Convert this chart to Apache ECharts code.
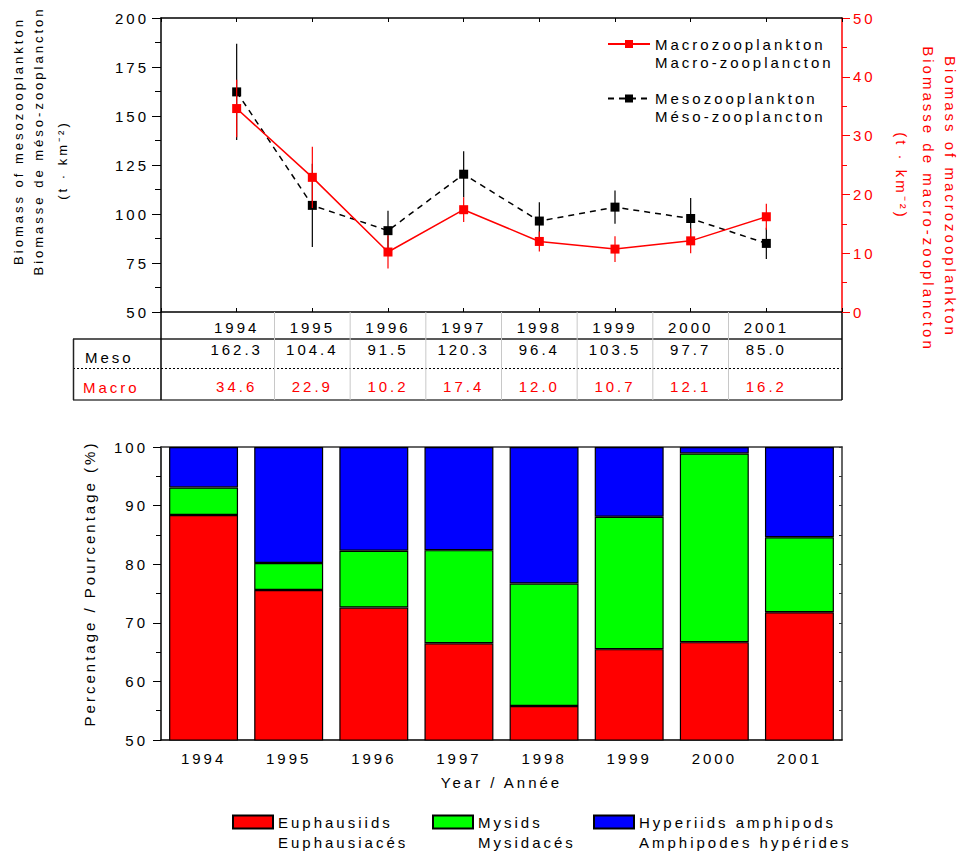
<!DOCTYPE html>
<html>
<head>
<meta charset="utf-8">
<script src="https://cdn.jsdelivr.net/npm/echarts@6/dist/echarts.min.js"></script>
<style>
  html, body { margin: 0; padding: 0; background: #fff; }
  #chart { width: 958px; height: 852px; }
  /* wide tracking for all chart text */
  #chart text { letter-spacing: 3px; }
</style>
</head>
<body>
<div id="chart"></div>
<script>
// Survey years
const years = [1994, 1995, 1996, 1997, 1998, 1999, 2000, 2001];

// Biomass (t · km-2): mesozooplankton on the left axis, macrozooplankton on the right axis
const mesoBiomass  = [162.3, 104.4, 91.5, 120.3, 96.4, 103.5, 97.7, 85.0];
const macroBiomass = [34.6, 22.9, 10.2, 17.4, 12.0, 10.7, 12.1, 16.2];

// Half-width of the error bars
const mesoError  = [24.5, 21.2, 10.2, 11.7, 9.6, 8.5, 10.5, 8.0];
const macroError = [4.9, 5.2, 2.8, 2.1, 1.7, 2.2, 2.1, 2.2];

// Composition of the macrozooplankton (%)
const euphausiids = [88.4, 75.6, 72.6, 66.5, 55.8, 65.5, 66.7, 71.8];
const mysids      = [4.7, 4.6, 9.7, 15.9, 20.9, 22.6, 32.2, 12.8];
const hyperiids   = [6.9, 19.8, 17.7, 17.6, 23.3, 11.9, 1.1, 15.4];

// Axis tick settings
const mesoTicks  = { min: 50, max: 200, interval: 25 };
const macroTicks = { min: 0, max: 50, interval: 10 };
const pctTicks   = { min: 50, max: 100, interval: 10 };

const FONT = '"Liberation Sans", Arial, sans-serif';
const RED = '#ff0000';

const chart = echarts.init(document.getElementById('chart'), null, { renderer: 'svg' });

function errorBar(color) {
  return function (params, api) {
    const x = api.value(0);
    const lo = api.coord([x, api.value(1)]);
    const hi = api.coord([x, api.value(2)]);
    return {
      type: 'line',
      shape: { x1: lo[0], y1: lo[1], x2: hi[0], y2: hi[1] },
      style: { stroke: color, lineWidth: 1.2 }
    };
  };
}

// Value table under the upper panel, one column per year
function tableColumn(params, api) {
  const yr = api.value(0);
  const i = api.value(1);
  const base = api.coord([yr, mesoTicks.min]);
  const children = [
    {
      type: 'text',
      style: {
        text: mesoBiomass[i].toFixed(1), x: base[0], y: base[1] + 37.5,
        align: 'center', verticalAlign: 'middle', fill: '#000',
        fontSize: 15, fontFamily: FONT
      }
    },
    {
      type: 'text',
      style: {
        text: macroBiomass[i].toFixed(1), x: base[0], y: base[1] + 74.5,
        align: 'center', verticalAlign: 'middle', fill: RED,
        fontSize: 15, fontFamily: FONT
      }
    }
  ];
  if (i < years.length - 1) {
    const sx = api.coord([yr + 0.5, mesoTicks.min])[0];
    children.push({
      type: 'line',
      shape: { x1: sx, y1: base[1], x2: sx, y2: base[1] + 88 },
      style: { stroke: '#c8c8c8', lineWidth: 1 }
    });
  }
  return { type: 'group', children };
}

const labelStyle = { fontSize: 15, fontFamily: FONT, color: '#000' };

function hline(x1, x2, y, stroke, w, dash) {
  return { type: 'line', shape: { x1, y1: y, x2, y2: y },
           style: { stroke, lineWidth: w, lineDash: dash || null }, silent: true };
}
function vline(x, y1, y2, stroke, w) {
  return { type: 'line', shape: { x1: x, y1, x2: x, y2 },
           style: { stroke, lineWidth: w }, silent: true };
}
function titleText(text, x, y, rot, size, color) {
  return { type: 'text', x, y, rotation: rot, silent: true,
           style: { text, align: 'center', verticalAlign: 'middle',
                    fontSize: size, fontFamily: FONT, fill: color } };
}

function twoLineLegend(name, second, left, top, iw, ih, lh, extra) {
  return Object.assign({
    data: [name], left, top, padding: 0, orient: 'vertical',
    itemWidth: iw, itemHeight: ih, selectedMode: false,
    formatter: n => '\n' + n + '\n' + second,
    textStyle: { fontSize: 15, fontFamily: FONT, color: '#000', lineHeight: lh }
  }, extra || {});
}

const option = {
  animation: false,
  backgroundColor: '#fff',
  textStyle: { fontFamily: FONT },
  grid: [
    { left: 161, right: 116, top: 18, height: 294 },
    { left: 161, right: 116, top: 447, height: 293 }
  ],
  legend: [
    twoLineLegend('Macrozooplankton', 'Macro-zooplancton', 607, 17, 42, 10, 18),
    twoLineLegend('Mesozooplankton', 'Méso-zooplancton', 607, 71.5, 42, 10, 18),
    twoLineLegend('Euphausiids', 'Euphausiacés', 232, 792, 40, 13, 20, { icon: 'rect' }),
    twoLineLegend('Mysids', 'Mysidacés', 432, 792, 40, 13, 20, { icon: 'rect' }),
    twoLineLegend('Hyperiids amphipods', 'Amphipodes hypérides', 593, 792, 40, 13, 20, { icon: 'rect' })
  ],
  xAxis: [
    {
      gridIndex: 0, type: 'value', position: 'bottom',
      min: years[0] - 1, max: years[years.length - 1] + 1, interval: 1,
      axisLine: { lineStyle: { color: '#000', width: 1.5 } },
      axisTick: { inside: true, length: 4, lineStyle: { color: '#000' } },
      axisLabel: Object.assign({ margin: 8,
        formatter: v => (v >= years[0] && v <= years[years.length - 1]) ? String(v) : '' }, labelStyle),
      splitLine: { show: false }
    },
    {
      gridIndex: 0, type: 'value', position: 'top',
      min: years[0] - 1, max: years[years.length - 1] + 1, interval: 1,
      axisLine: { lineStyle: { color: '#000', width: 1.5 } },
      axisTick: { inside: true, length: 4, lineStyle: { color: '#000' } },
      axisLabel: { show: false },
      splitLine: { show: false }
    },
    {
      gridIndex: 1, type: 'category', position: 'bottom', data: years,
      axisLine: { lineStyle: { color: '#000', width: 1.5 } },
      axisTick: { alignWithLabel: true, length: 6, lineStyle: { color: '#000' } },
      axisLabel: Object.assign({ margin: 11 }, labelStyle),
      name: 'Year / Année', nameLocation: 'middle', nameGap: 35,
      nameTextStyle: { fontSize: 15, fontFamily: FONT, color: '#000' }
    },
    {
      gridIndex: 1, type: 'category', position: 'top', data: years,
      axisLine: { lineStyle: { color: '#333', width: 1.5 } },
      axisTick: { inside: true, length: 3, lineStyle: { color: '#333' } },
      axisLabel: { show: false }
    }
  ],
  yAxis: [
    {
      gridIndex: 0, type: 'value', position: 'left',
      min: mesoTicks.min, max: mesoTicks.max, interval: mesoTicks.interval,
      axisLine: { show: true, lineStyle: { color: '#000', width: 1.5 } },
      axisTick: { show: true, length: 9, lineStyle: { color: '#000' } },
      minorTick: { show: true, splitNumber: 2, length: 6, lineStyle: { color: '#000' } },
      axisLabel: Object.assign({ margin: 12 }, labelStyle),
      splitLine: { show: false }
    },
    {
      gridIndex: 0, type: 'value', position: 'right',
      min: macroTicks.min, max: macroTicks.max, interval: macroTicks.interval,
      axisLine: { show: true, lineStyle: { color: RED, width: 1.5 } },
      axisTick: { show: true, length: 8, lineStyle: { color: RED } },
      minorTick: { show: true, splitNumber: 2, length: 5, lineStyle: { color: RED } },
      axisLabel: { margin: 11, fontSize: 15, fontFamily: FONT, color: RED },
      splitLine: { show: false }
    },
    {
      gridIndex: 1, type: 'value', position: 'left',
      min: pctTicks.min, max: pctTicks.max, interval: pctTicks.interval,
      axisLine: { show: true, lineStyle: { color: '#000', width: 1.5 } },
      axisTick: { show: true, length: 8, lineStyle: { color: '#000' } },
      minorTick: { show: true, splitNumber: 2, length: 5, lineStyle: { color: '#000' } },
      axisLabel: Object.assign({ margin: 13 }, labelStyle),
      splitLine: { show: false },
      name: 'Percentage / Pourcentage (%)', nameLocation: 'middle', nameGap: 64,
      nameTextStyle: { fontSize: 15, fontFamily: FONT, color: '#000', padding: [0, 0, 0, 20] }
    },
    {
      gridIndex: 1, type: 'value', position: 'right',
      min: pctTicks.min, max: pctTicks.max, interval: pctTicks.interval,
      axisLine: { show: true, lineStyle: { color: '#333', width: 1.5 } },
      axisTick: { show: true, inside: true, length: 3, lineStyle: { color: '#333' } },
      minorTick: { show: true, splitNumber: 2, length: 3, lineStyle: { color: '#333' } },
      axisLabel: { show: false },
      splitLine: { show: false }
    }
  ],
  series: [
    {
      name: 'table', type: 'custom', xAxisIndex: 0, yAxisIndex: 0, z: 1,
      data: years.map((y, i) => [y, i]),
      encode: { x: 0 },
      renderItem: tableColumn, silent: true
    },
    {
      name: 'mesoError', type: 'custom', xAxisIndex: 0, yAxisIndex: 0, z: 2,
      data: years.map((y, i) => [y, mesoBiomass[i] - mesoError[i], mesoBiomass[i] + mesoError[i]]),
      encode: { x: 0, y: [1, 2] },
      renderItem: errorBar('#000'), silent: true
    },
    {
      name: 'Mesozooplankton', type: 'line', xAxisIndex: 0, yAxisIndex: 0, z: 3,
      data: years.map((y, i) => [y, mesoBiomass[i]]),
      symbol: 'rect', symbolSize: 9,
      itemStyle: { color: '#000' },
      lineStyle: { color: '#000', width: 1.5, type: [6, 5] }
    },
    {
      name: 'macroError', type: 'custom', xAxisIndex: 0, yAxisIndex: 1, z: 4,
      data: years.map((y, i) => [y, macroBiomass[i] - macroError[i], macroBiomass[i] + macroError[i]]),
      encode: { x: 0, y: [1, 2] },
      renderItem: errorBar(RED), silent: true
    },
    {
      name: 'Macrozooplankton', type: 'line', xAxisIndex: 0, yAxisIndex: 1, z: 5,
      data: years.map((y, i) => [y, macroBiomass[i]]),
      symbol: 'rect', symbolSize: 9,
      itemStyle: { color: RED },
      lineStyle: { color: RED, width: 1.5 }
    },
    {
      name: 'Euphausiids', type: 'bar', xAxisIndex: 2, yAxisIndex: 2, stack: 'pct',
      data: euphausiids, barCategoryGap: '19%',
      itemStyle: { color: '#ff0000', borderColor: '#000', borderWidth: 1.2 }
    },
    {
      name: 'Mysids', type: 'bar', xAxisIndex: 2, yAxisIndex: 2, stack: 'pct',
      data: mysids, barCategoryGap: '19%',
      itemStyle: { color: '#00ff00', borderColor: '#000', borderWidth: 1.2 }
    },
    {
      name: 'Hyperiids amphipods', type: 'bar', xAxisIndex: 2, yAxisIndex: 2, stack: 'pct',
      data: hyperiids, barCategoryGap: '19%',
      itemStyle: { color: '#0000ff', borderColor: '#000', borderWidth: 1.2 }
    }
  ],
  graphic: [
    // frame of the value table
    hline(73, 842, 339, '#222', 1.5),
    hline(73, 842, 368.5, '#000', 1, [2, 2]),
    hline(73, 842, 400, '#444', 1.5),
    vline(73.5, 339, 400, '#222', 1.5),
    vline(161, 312, 400, '#000', 1.5),
    vline(842, 312, 400, '#000', 1.5),
    { type: 'text', x: 85, y: 357, silent: true,
      style: { text: 'Meso', align: 'left', verticalAlign: 'middle', fontSize: 15, fontFamily: FONT, fill: '#000' } },
    { type: 'text', x: 83, y: 387, silent: true,
      style: { text: 'Macro', align: 'left', verticalAlign: 'middle', fontSize: 15, fontFamily: FONT, fill: RED } },
    // axis titles of the upper panel
    titleText('Biomass of mesozooplankton', 18, 141, Math.PI / 2, 13, '#000'),
    titleText('Biomasse de méso-zooplancton', 38, 141, Math.PI / 2, 13, '#000'),
    titleText('(t · km⁻²)', 62, 160, Math.PI / 2, 13, '#000'),
    titleText('Biomass of macrozooplankton', 950, 197, -Math.PI / 2, 15, RED),
    titleText('Biomasse de macro-zooplancton', 928, 199, -Math.PI / 2, 15, RED),
    titleText('(t · km⁻²)', 901, 176, -Math.PI / 2, 15, RED)
  ]
};

chart.setOption(option);
</script>
</body>
</html>
